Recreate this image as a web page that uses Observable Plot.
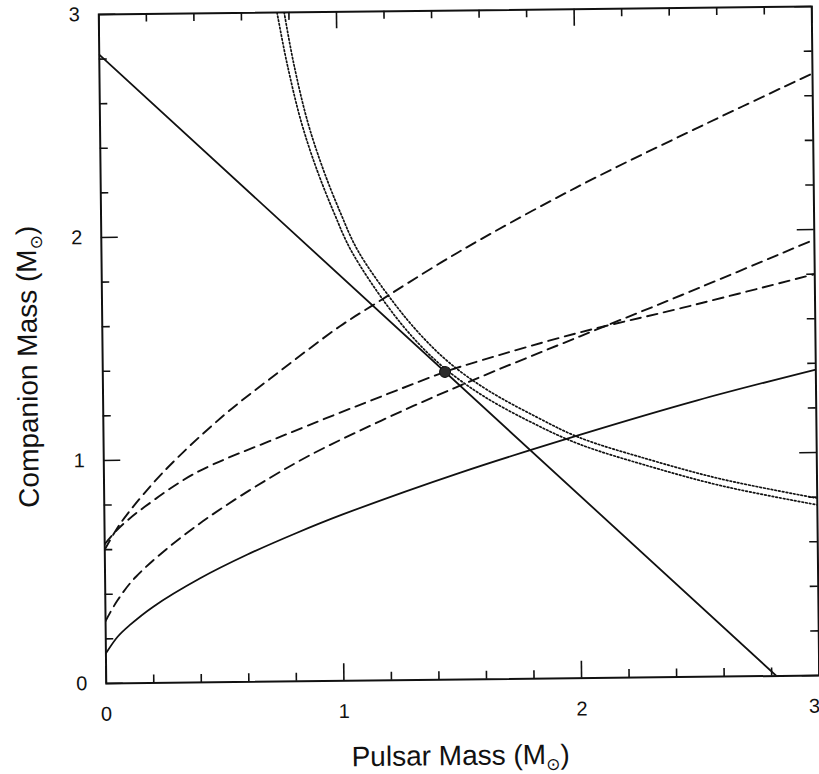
<!DOCTYPE html>
<html>
<head>
<meta charset="utf-8">
<script src="https://cdn.jsdelivr.net/npm/d3@7"></script>
<script src="https://cdn.jsdelivr.net/npm/@observablehq/plot@0.6"></script>
<style>
  html, body { margin: 0; padding: 0; background: #ffffff; }
  #chart { position: relative; width: 819px; height: 774px; overflow: hidden; background: #ffffff; }
  #chart svg { transform-origin: 458.5px 344.75px; transform: rotate(-0.64deg); }
</style>
</head>
<body>
<div id="chart"></div>
<script>
// ---- Data (pulsar mass, companion mass in solar masses) ----
const xMajorTicks = [0, 1, 2, 3];
const yMajorTicks = [0, 1, 2, 3];
const xLabelTicks = [0, 1, 2];
const xLastLabel = [3];
const minorTicks = [0.2, 0.4, 0.6, 0.8, 1.2, 1.4, 1.6, 1.8, 2.2, 2.4, 2.6, 2.8];

// solid straight line (total mass)
const totalMassX = [0, 2.82];
const totalMassY = [2.82, 0];

// solid lower curve (mass function limit)
const massFnX = [0, 0.05, 0.1, 0.2, 0.4, 0.6, 0.8, 1.0, 1.5, 2.0, 2.5, 3.0];
const massFnY = [0.135, 0.209, 0.259, 0.341, 0.467, 0.571, 0.662, 0.745, 0.928, 1.09, 1.24, 1.372];

// dashed curve A (steepest, to top right)
const dashAX = [0, 0.05, 0.1, 0.25, 0.5, 0.75, 1.0, 1.14, 1.5, 2.0, 2.5, 3.0];
const dashAY = [0.6, 0.69, 0.763, 0.945, 1.19, 1.395, 1.59, 1.683, 1.915, 2.20, 2.455, 2.70];

// dashed curve B (through the point)
const dashBX = [0, 0.05, 0.1, 0.17, 0.38, 0.75, 1.2, 1.44, 1.6, 2.0, 2.44, 3.0];
const dashBY = [0.625, 0.685, 0.733, 0.79, 0.936, 1.10, 1.285, 1.38, 1.432, 1.548, 1.655, 1.80];

// dashed curve C (starting lowest)
const dashCX = [0, 0.05, 0.13, 0.38, 0.8, 1.17, 1.53, 2.01, 2.44, 3.0];
const dashCY = [0.28, 0.37, 0.477, 0.697, 0.975, 1.165, 1.33, 1.533, 1.713, 1.955];

// double dotted curve (inner and outer)
const dot1X = [0.75, 0.788, 0.845, 0.908, 0.98, 1.05, 1.2, 1.32, 1.44, 1.6, 1.8, 2.0, 2.3, 2.6, 3.0];
const dot1Y = [3.0, 2.78, 2.515, 2.3, 2.1, 1.93, 1.68, 1.52, 1.395, 1.27, 1.15, 1.05, 0.945, 0.855, 0.765];
const dot2X = [0.78, 0.816, 0.872, 0.935, 1.007, 1.078, 1.226, 1.345, 1.465, 1.62, 1.82, 2.0, 2.3, 2.6, 3.0];
const dot2Y = [3.0, 2.78, 2.515, 2.3, 2.1, 1.93, 1.695, 1.54, 1.415, 1.295, 1.175, 1.08, 0.975, 0.885, 0.795];

// measured masses
const pointX = [1.44];
const pointY = [1.38];

// ---- build tables ----
const toRows = (xs, ys) => xs.map((x, i) => ({x, y: ys[i]}));
const totalMass = toRows(totalMassX, totalMassY);
const massFn = toRows(massFnX, massFnY);
const dashA = toRows(dashAX, dashAY);
const dashB = toRows(dashBX, dashBY);
const dashC = toRows(dashCX, dashCY);
const dot1 = toRows(dot1X, dot1Y);
const dot2 = toRows(dot2X, dot2Y);
const point = toRows(pointX, pointY);

const ink = "#111";
const intFmt = d3.format("d");
const tickW = 1.6;
const W = 819, H = 774, mL = 102, mR = 4, mT = 10, mB = 95;
const xMax = 3, yMax = 3;
const pxPerX = (W - mL - mR) / xMax;   // pixels per unit of pulsar mass
const pxPerY = (H - mT - mB) / yMax;   // pixels per unit of companion mass
const majorLen = 17, minorLen = 8;     // tick lengths in pixels

// inward tick marks on all four edges, built with rule marks on the chart's scales
function edgeTicks(values, len) {
  const dy = len / pxPerY, dx = len / pxPerX;
  return [
    Plot.ruleX(values, {x: (d) => d, y1: 0, y2: dy, stroke: ink, strokeWidth: tickW}),
    Plot.ruleX(values, {x: (d) => d, y1: yMax, y2: yMax - dy, stroke: ink, strokeWidth: tickW}),
    Plot.ruleY(values, {y: (d) => d, x1: 0, x2: dx, stroke: ink, strokeWidth: tickW}),
    Plot.ruleY(values, {y: (d) => d, x1: xMax, x2: xMax - dx, stroke: ink, strokeWidth: tickW})
  ];
}

const chart = Plot.plot({
  width: W,
  height: H,
  marginLeft: mL,
  marginRight: mR,
  marginTop: mT,
  marginBottom: mB,
  x: {domain: [0, xMax]},
  y: {domain: [0, yMax]},
  style: {fontFamily: "'Liberation Sans', Arial, Helvetica, sans-serif", fontSize: "20px", color: ink, background: "transparent"},
  marks: [
    Plot.frame({stroke: ink, strokeWidth: 2}),
    ...edgeTicks(xMajorTicks, majorLen),
    ...edgeTicks(minorTicks, minorLen),
    // tick labels
    Plot.axisX({anchor: "bottom", ticks: xLabelTicks, tickSize: 0, tickPadding: 23, tickFormat: intFmt, label: null}),
    Plot.axisX({anchor: "bottom", ticks: xLastLabel, tickSize: 0, tickPadding: 23, dx: -5, tickFormat: intFmt, label: null}),
    Plot.axisY({anchor: "left", ticks: yMajorTicks, tickSize: 0, tickPadding: 19, tickFormat: intFmt, label: null}),
    // curves
    Plot.line(massFn, {x: "x", y: "y", curve: "catmull-rom", stroke: ink, strokeWidth: 1.8, clip: true}),
    Plot.line(totalMass, {x: "x", y: "y", stroke: ink, strokeWidth: 1.8, clip: true}),
    Plot.line(dashA, {x: "x", y: "y", curve: "catmull-rom", stroke: ink, strokeWidth: 1.9, strokeDasharray: "10.5,6.5", clip: true}),
    Plot.line(dashB, {x: "x", y: "y", curve: "catmull-rom", stroke: ink, strokeWidth: 1.9, strokeDasharray: "10.5,6.5", clip: true}),
    Plot.line(dashC, {x: "x", y: "y", curve: "catmull-rom", stroke: ink, strokeWidth: 1.9, strokeDasharray: "10.5,6.5", clip: true}),
    Plot.line(dot1, {x: "x", y: "y", curve: "catmull-rom", stroke: ink, strokeWidth: 1.7, strokeDasharray: "1.6,2.2", clip: true}),
    Plot.line(dot2, {x: "x", y: "y", curve: "catmull-rom", stroke: ink, strokeWidth: 1.7, strokeDasharray: "1.6,2.2", clip: true}),
    Plot.dot(point, {x: "x", y: "y", r: 5.5, fill: "#2b2b2b", stroke: ink, strokeWidth: 1})
  ]
});

document.getElementById("chart").appendChild(chart);

const svg = d3.select(chart);
const fam = "'Liberation Sans', Arial, Helvetica, sans-serif";

// axis titles with the solar-mass symbol as a subscript
const xt = svg.append("text")
  .attr("x", 456).attr("y", 765)
  .attr("text-anchor", "middle")
  .attr("font-family", fam).style("font-size", "28px").attr("fill", ink);
xt.append("tspan").text("Pulsar Mass (M");
xt.append("tspan").style("font-size", "17px").attr("dy", 6).attr("font-family", "'DejaVu Sans', sans-serif").text("⊙");
xt.append("tspan").attr("dy", -6).text(")");

const yt = svg.append("text")
  .attr("transform", "translate(37,362) rotate(-90)")
  .attr("text-anchor", "middle")
  .attr("font-family", fam).style("font-size", "28px").attr("fill", ink);
yt.append("tspan").text("Companion Mass (M");
yt.append("tspan").style("font-size", "17px").attr("dy", 6).attr("font-family", "'DejaVu Sans', sans-serif").text("⊙");
yt.append("tspan").attr("dy", -6).text(")");
</script>
</body>
</html>
